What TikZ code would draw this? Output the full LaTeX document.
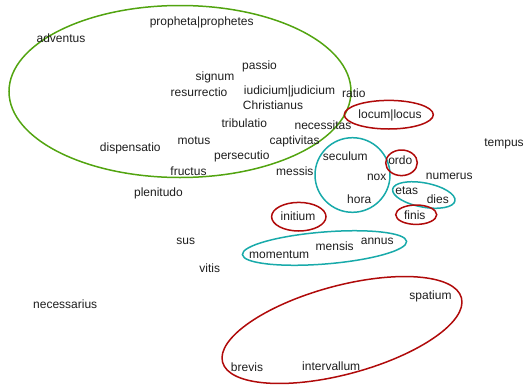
\documentclass[tikz,border=0pt]{standalone}
\usepackage{fontspec}
\setmainfont{Liberation Sans}
\definecolor{grn}{RGB}{82,164,16}
\definecolor{rd}{RGB}{176,10,10}
\definecolor{tl}{RGB}{24,170,170}
\definecolor{txt}{RGB}{30,30,30}
\begin{document}
\begin{tikzpicture}[x=1pt,y=-1pt,
  word/.style={inner sep=0pt, text=txt, font=\fontsize{12}{14}\selectfont, text height=8.6pt, text depth=2.5pt},
  ring/.style={line width=1.5pt},
  grring/.style={ring, draw=grn},
  rdring/.style={ring, draw=rd},
  tlring/.style={ring, draw=tl}]
\useasboundingbox (0,0) rectangle (525,386);
% ellipses
\draw[grring] (180,91.5) ellipse [x radius=171pt, y radius=86pt];
\draw[rdring] (388.8,114.7) ellipse [x radius=44.5pt, y radius=14.3pt];
\draw[tlring] (352.5,175) ellipse [x radius=37.5pt, y radius=37.3pt];
\draw[rdring] (401.5,162.8) ellipse [x radius=15.8pt, y radius=12.8pt];
\draw[tlring] (423.8,195) ellipse [x radius=31.7pt, y radius=12.1pt, rotate=-10.7];
\draw[rdring] (416.2,214.7) ellipse [x radius=20.5pt, y radius=9.7pt];
\draw[rdring] (298.8,216.7) ellipse [x radius=27.2pt, y radius=14.3pt];
\draw[tlring] (324.5,248) ellipse [x radius=82.4pt, y radius=16pt, rotate=4.6];
\draw[rdring] (342,330) ellipse [x radius=123.7pt, y radius=44.2pt, rotate=15.1];
% words
\begin{scope}[shift={(0,1)}]
\node[word] (w1) at (201.7,21) {propheta|prophetes};
\node[word] (w2) at (61,38) {adventus};
\node[word] (w3) at (259.5,65) {passio};
\node[word] (w4) at (215,76) {signum};
\node[word] (w5) at (199,92) {resurrectio};
\node[word] (w6) at (289.5,90) {iudicium|judicium};
\node[word] (w7) at (353.8,93.3) {ratio};
\node[word] (w8) at (273,105.5) {Christianus};
\node[word] (w9) at (390,114.3) {locum|locus};
\node[word] (w10) at (244.3,123.7) {tribulatio};
\node[word] (w11) at (323,125) {necessitas};
\node[word] (w12) at (194,140) {motus};
\node[word] (w13) at (294.6,140) {captivitas};
\node[word] (w14) at (130.3,147.7) {dispensatio};
\node[word] (w15) at (504,142.7) {tempus};
\node[word] (w16) at (241.8,155.7) {persecutio};
\node[word] (w17) at (345.3,156) {seculum};
\node[word] (w18) at (400.3,160.7) {ordo};
\node[word] (w19) at (188.5,171) {fructus};
\node[word] (w20) at (294.8,171.7) {messis};
\node[word] (w21) at (376.7,176) {nox};
\node[word] (w22) at (449.3,175) {numerus};
\node[word] (w23) at (406.7,190) {etas};
\node[word] (w24) at (158.5,192.3) {plenitudo};
\node[word] (w25) at (359.2,199.3) {hora};
\node[word] (w26) at (437.8,199.3) {dies};
\node[word] (w27) at (298,216.7) {initium};
\node[word] (w28) at (414.8,215) {finis};
\node[word] (w29) at (185.8,240.7) {sus};
\node[word] (w30) at (377.2,240.3) {annus};
\node[word] (w31) at (334.7,246.7) {mensis};
\node[word] (w32) at (279.2,254.7) {momentum};
\node[word] (w33) at (209.7,268.3) {vitis};
\node[word] (w34) at (430.5,295) {spatium};
\node[word] (w35) at (65.2,304.7) {necessarius};
\node[word] (w36) at (247,367.3) {brevis};
\node[word] (w37) at (331.2,366) {intervallum};
\end{scope}
\end{tikzpicture}
\end{document}
